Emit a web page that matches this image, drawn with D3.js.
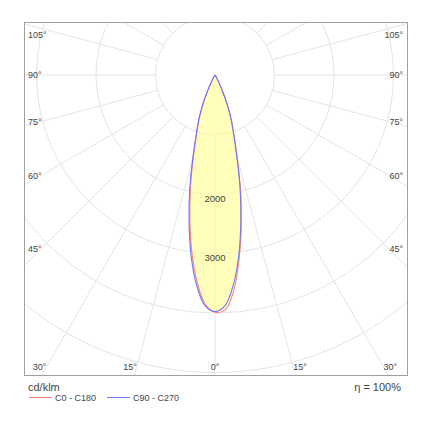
<!DOCTYPE html>
<html>
<head>
<meta charset="utf-8">
<script src="https://cdn.jsdelivr.net/npm/d3@7"></script>
<style>
  body { margin: 0; background: #fff; }
  text { font-family: "Liberation Sans", Arial, sans-serif; fill: #444; }
</style>
</head>
<body>
<svg id="ldc" width="430" height="430"></svg>
<script>
// gamma angles (deg) and intensities (cd/klm)
var gammas = [0, 2.5, 5, 7.5, 10, 12.5, 15, 17.5, 20, 22.5, 25, 27.5, 30, 32.5, 35, 40, 45, 50, 60, 70, 80, 90];
var c0   = [3985, 3950, 3630, 3110, 2540, 1980, 1440, 1060, 790, 540, 300, 130, 40, 10, 0, 0, 0, 0, 0, 0, 0, 0];
var c180 = [3985, 3850, 3480, 2990, 2440, 1900, 1390, 1020, 770, 520, 290, 125, 40, 10, 0, 0, 0, 0, 0, 0, 0, 0];
var c90  = [3975, 3880, 3540, 3060, 2500, 1950, 1420, 1050, 790, 540, 300, 130, 40, 10, 0, 0, 0, 0, 0, 0, 0, 0];
var c270 = [3975, 3880, 3545, 3070, 2510, 1960, 1430, 1055, 795, 545, 305, 130, 40, 10, 0, 0, 0, 0, 0, 0, 0, 0];

var rings = [1000, 2000, 3000, 4000, 5000, 6000];
var ringLabels = [2000, 3000];
var angleLabels = [0, 15, 30, 45, 60, 75, 90, 105];
var legendItems = ["C0 - C180", "C90 - C270"];
var unitLabel = "cd/klm";
var effLabel = "\u03b7 = 100%";

var cx = 215, cy = 75;
var fx0 = 24, fy0 = 22, fx1 = 408, fy1 = 376;
var red = "#ff8282", blue = "#7474ff";

var r = d3.scaleLinear().domain([0, 1000]).range([0, 59.5]);
var rad = Math.PI / 180;

var svg = d3.select("#ldc");

svg.append("clipPath").attr("id", "frameclip")
  .append("rect")
    .attr("x", fx0).attr("y", fy0)
    .attr("width", fx1 - fx0).attr("height", fy1 - fy0);

var grid = svg.append("g").attr("clip-path", "url(#frameclip)");

grid.selectAll("circle")
  .data(rings)
  .enter().append("circle")
    .attr("cx", cx).attr("cy", cy)
    .attr("r", function(d) { return r(d); })
    .attr("fill", "none")
    .attr("stroke", "#e4e4e4")
    .attr("stroke-width", 1);

// radial lines every 15 deg, starting at the first ring
grid.selectAll("line")
  .data(d3.range(0, 360, 15))
  .enter().append("line")
    .attr("x1", function(d) { return cx + r(rings[0]) * Math.sin(d * rad); })
    .attr("y1", function(d) { return cy + r(rings[0]) * Math.cos(d * rad); })
    .attr("x2", function(d) { return cx + 600 * Math.sin(d * rad); })
    .attr("y2", function(d) { return cy + 600 * Math.cos(d * rad); })
    .attr("stroke", "#e4e4e4")
    .attr("stroke-width", 1);

// closed curve: left half, then right half
function lobe(left, right) {
  var pts = [];
  for (var i = gammas.length - 1; i >= 0; i--) pts.push([Math.PI + gammas[i] * rad, r(left[i])]);
  for (var j = 1; j < gammas.length; j++) pts.push([Math.PI - gammas[j] * rad, r(right[j])]);
  return pts;
}

var line = d3.lineRadial()
  .angle(function(d) { return d[0]; })
  .radius(function(d) { return d[1]; })
  .curve(d3.curveCatmullRom);

var plot = svg.append("g").attr("transform", "translate(" + cx + "," + cy + ")");

var curves = [
  { pts: lobe(c180, c0), color: red },
  { pts: lobe(c270, c90), color: blue }
];

plot.selectAll("path.fill")
  .data(curves)
  .enter().append("path")
    .attr("class", "fill")
    .attr("d", function(d) { return line(d.pts); })
    .attr("fill", "#ffff99")
    .attr("fill-opacity", 0.42)
    .attr("stroke", "none");

plot.selectAll("path.edge")
  .data(curves)
  .enter().append("path")
    .attr("class", "edge")
    .attr("d", function(d) { return line(d.pts); })
    .attr("fill", "none")
    .attr("stroke", function(d) { return d.color; })
    .attr("stroke-width", 1.1);

svg.selectAll("text.ring")
  .data(ringLabels)
  .enter().append("text")
    .attr("class", "ring")
    .attr("x", cx)
    .attr("y", function(d) { return cy + r(d) + 4.5; })
    .attr("dy", "0.35em")
    .attr("text-anchor", "middle")
    .attr("font-size", "9.5px")
    .text(function(d) { return d; });

// frame
svg.append("rect")
  .attr("x", fx0 + 0.5).attr("y", fy0 + 0.5)
  .attr("width", fx1 - fx0 - 1).attr("height", fy1 - fy0 - 1)
  .attr("fill", "none")
  .attr("stroke", "#a0a0a0")
  .attr("stroke-width", 1);

// angle labels on both sides
var labs = [];
angleLabels.forEach(function(a) {
  [-1, 1].forEach(function(s) {
    if (a === 0 && s === 1) return;
    var sx = s < 0 ? 41 : 389;
    var t = Math.abs(sx - cx) / Math.sin(a * rad);
    var sy = cy + t * Math.cos(a * rad);
    if (a > 0 && sy <= 367) {
      labs.push({ t: a + "\u00b0", x: s < 0 ? 28 : 403, y: Math.max(sy, 35), anchor: s < 0 ? "start" : "end" });
    } else {
      var bx = cx + s * (367 - cy) * Math.tan(a * rad);
      labs.push({ t: a + "\u00b0", x: bx, y: 367, anchor: a === 0 ? "middle" : (s < 0 ? "end" : "start") });
    }
  });
});

svg.selectAll("text.ang")
  .data(labs)
  .enter().append("text")
    .attr("class", "ang")
    .attr("x", function(d) { return d.x; })
    .attr("y", function(d) { return d.y; })
    .attr("dy", "0.35em")
    .attr("text-anchor", function(d) { return d.anchor; })
    .attr("font-size", "9px")
    .text(function(d) { return d.t; });

// legend
svg.append("text")
  .attr("x", 28).attr("y", 391)
  .attr("font-size", "11px")
  .text(unitLabel);

svg.append("text")
  .attr("x", 401).attr("y", 391)
  .attr("text-anchor", "end")
  .attr("font-size", "11px")
  .text(effLabel);

var leg = svg.selectAll("g.leg")
  .data(legendItems)
  .enter().append("g")
    .attr("class", "leg")
    .attr("transform", function(d, i) { return "translate(" + (i === 0 ? 29 : 107) + ",397.5)"; });

leg.append("line")
  .attr("x1", 0).attr("x2", 23)
  .attr("stroke", function(d, i) { return i === 0 ? "#ff8080" : "#8080ff"; })
  .attr("stroke-width", 1.2);

leg.append("text")
  .attr("x", 26)
  .attr("dy", "0.35em")
  .attr("font-size", "9px")
  .text(function(d) { return d; });
</script>
</body>
</html>
